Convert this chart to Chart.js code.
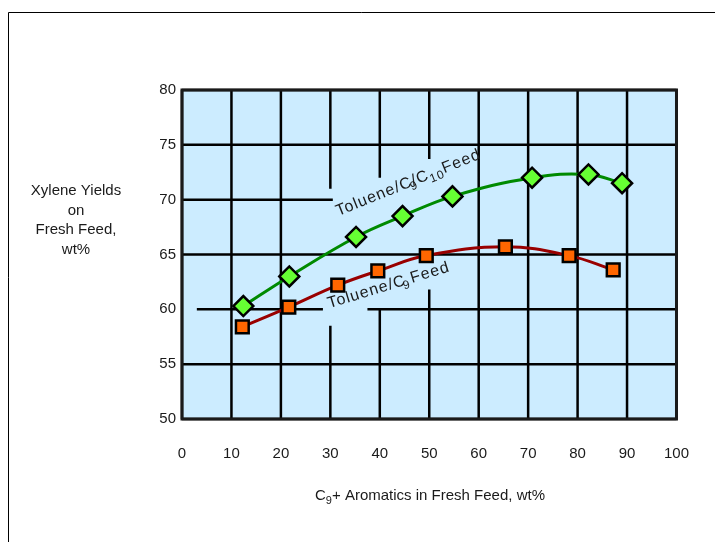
<!DOCTYPE html>
<html>
<head>
<meta charset="utf-8">
<script src="https://cdn.jsdelivr.net/npm/chart.js@4.4.0/dist/chart.umd.min.js"></script>
<style>
    html, body { margin: 0; padding: 0; background: #fff; }
    #wrap { width: 715px; height: 542px; position: relative; }
</style>
</head>
<body>
<div id="wrap"><canvas id="yieldChart"></canvas></div>
<script>
    // valores
    const c9c10Feed = [12.4, 21.7, 35.2, 44.6, 54.7, 70.8, 82.2, 89.0];
    const c9c10Yield = [60.3, 63.0, 66.6, 68.5, 70.3, 72.0, 72.3, 71.5];
    const c9Feed = [12.2, 21.6, 31.5, 39.6, 49.4, 65.4, 78.3, 87.2];
    const c9Yield = [58.4, 60.2, 62.2, 63.5, 64.9, 65.7, 64.9, 63.6];
    const xTicks = [0, 10, 20, 30, 40, 50, 60, 70, 80, 90, 100];
    const yTicks = [50, 55, 60, 65, 70, 75, 80];

    const FONT = '"Liberation Sans", Arial, sans-serif';

    function toPoints(xs, ys) {
        return xs.map((x, i) => ({ x: x, y: ys[i] }));
    }

    // grade com trechos apagados atrás dos rótulos (em unidades dos eixos)
    const hGridGaps = { 70: [[0, 30.5]], 60: [[3, 28.5], [37.5, 100]] };
    const vGridGaps = { 30: [[71, 80], [50, 58.5]], 40: [[72, 80], [50, 60]], 50: [[73.7, 80], [50, 61.8]] };

    const gridPlugin = {
        id: 'gridPlugin',
        beforeDraw(chart) {
            const ctx = chart.ctx;
            // moldura da página
            ctx.save();
            ctx.strokeStyle = '#000';
            ctx.lineWidth = 1;
            ctx.beginPath();
            ctx.moveTo(8.5, 542);
            ctx.lineTo(8.5, 12.5);
            ctx.lineTo(715, 12.5);
            ctx.stroke();
            ctx.restore();
        },
        beforeDatasetsDraw(chart) {
            const { ctx, chartArea: a, scales: { x, y } } = chart;
            ctx.save();
            ctx.fillStyle = '#CCECFF';
            ctx.fillRect(a.left, a.top, a.right - a.left, a.bottom - a.top);
            ctx.strokeStyle = '#000';
            ctx.lineWidth = 2.5;
            ctx.beginPath();
            yTicks.forEach(v => {
                const py = y.getPixelForValue(v);
                (hGridGaps[v] || [[0, 100]]).forEach(([x0, x1]) => {
                    ctx.moveTo(x.getPixelForValue(x0), py);
                    ctx.lineTo(x.getPixelForValue(x1), py);
                });
            });
            xTicks.forEach(v => {
                const px = x.getPixelForValue(v);
                (vGridGaps[v] || [[50, 80]]).forEach(([y0, y1]) => {
                    ctx.moveTo(px, y.getPixelForValue(y0));
                    ctx.lineTo(px, y.getPixelForValue(y1));
                });
            });
            ctx.stroke();
            ctx.strokeStyle = '#1a1a1a';
            ctx.lineWidth = 3;
            ctx.strokeRect(a.left, a.top, a.right - a.left, a.bottom - a.top);
            ctx.restore();
        }
    };

    function drawRich(ctx, parts, size) {
        let cx = 0;
        parts.forEach(p => {
            const fs = p.sub ? Math.round(size * 0.72) : size;
            ctx.font = fs + 'px ' + FONT;
            ctx.fillText(p.t, cx + (p.dx || 0), p.sub ? 4 : 0);
            if (!p.noAdvance) cx += ctx.measureText(p.t).width;
        });
    }

    const labelsPlugin = {
        id: 'labelsPlugin',
        afterDatasetsDraw(chart) {
            const { ctx, scales: { x, y } } = chart;
            ctx.save();
            ctx.fillStyle = '#1a1a1a';
            ctx.textBaseline = 'alphabetic';
            ctx.textAlign = 'left';
            ctx.letterSpacing = '1px';

            ctx.save();
            ctx.translate(x.getPixelForValue(31.6), y.getPixelForValue(68.5));
            ctx.rotate(-22 * Math.PI / 180);
            drawRich(ctx, [
                { t: 'Toluene/C' },
                { t: '9', sub: true, noAdvance: true, dx: -3 },
                { t: '/C' },
                { t: '10', sub: true },
                { t: 'Feed' }
            ], 16);
            ctx.restore();

            ctx.save();
            ctx.translate(x.getPixelForValue(29.8), y.getPixelForValue(60.1));
            ctx.rotate(-17 * Math.PI / 180);
            drawRich(ctx, [
                { t: 'Toluene/C' },
                { t: '9', sub: true, noAdvance: true, dx: -4 },
                { t: ' Feed' }
            ], 16);
            ctx.restore();

            ctx.letterSpacing = '0px';
            // título do eixo y
            ctx.textAlign = 'center';
            ctx.textBaseline = 'middle';
            ctx.font = '15px ' + FONT;
            ['Xylene Yields', 'on', 'Fresh Feed,', 'wt%'].forEach((line, i) => {
                ctx.fillText(line, 76, 191 + i * 19.5);
            });

            // título do eixo x com subscrito
            ctx.textAlign = 'left';
            ctx.textBaseline = 'alphabetic';
            const main = '+ Aromatics in Fresh Feed, wt%';
            ctx.font = '15px ' + FONT;
            const wC = ctx.measureText('C').width;
            const wMain = ctx.measureText(main).width;
            ctx.font = '11px ' + FONT;
            const w9 = ctx.measureText('9').width;
            let sx = 430 - (wC + w9 + wMain) / 2;
            ctx.font = '15px ' + FONT;
            ctx.fillText('C', sx, 500);
            ctx.font = '11px ' + FONT;
            ctx.fillText('9', sx + wC, 504);
            ctx.font = '15px ' + FONT;
            ctx.fillText(main, sx + wC + w9, 500);
            ctx.restore();
        }
    };

    const ctx = document.getElementById('yieldChart').getContext('2d');
    new Chart(ctx, {
        type: 'line',
        data: {
            datasets: [
                {
                    label: 'Toluene/C9/C10 Feed',
                    data: toPoints(c9c10Feed, c9c10Yield),
                    borderColor: '#008A00',
                    borderWidth: 3,
                    tension: 0.4,
                    pointStyle: 'rectRot',
                    pointRadius: 10,
                    pointBackgroundColor: '#66FF33',
                    pointBorderColor: '#000',
                    pointBorderWidth: 2.5
                },
                {
                    label: 'Toluene/C9 Feed',
                    data: toPoints(c9Feed, c9Yield),
                    borderColor: '#990000',
                    borderWidth: 3,
                    tension: 0.4,
                    pointStyle: 'rect',
                    pointRadius: 9,
                    pointBackgroundColor: '#FF6600',
                    pointBorderColor: '#000',
                    pointBorderWidth: 2.5
                }
            ]
        },
        options: {
            responsive: true,
            maintainAspectRatio: false,
            animation: false,
            events: [],
            layout: { padding: { top: 90, right: 37, left: 0, bottom: 0 } },
            plugins: { legend: { display: false }, tooltip: { enabled: false } },
            scales: {
                x: {
                    type: 'linear',
                    min: 0, max: 100,
                    afterFit: s => { s.height = 123; },
                    afterBuildTicks: s => { s.ticks = xTicks.map(v => ({ value: v })); },
                    grid: { display: false, drawTicks: false },
                    border: { display: false },
                    ticks: { padding: 26, color: '#1a1a1a', font: { family: FONT, size: 15 }, maxRotation: 0 }
                },
                y: {
                    type: 'linear',
                    min: 50, max: 80,
                    afterFit: s => { s.width = 182; },
                    afterBuildTicks: s => { s.ticks = yTicks.map(v => ({ value: v })); },
                    grid: { display: false, drawTicks: false },
                    border: { display: false },
                    ticks: { padding: 6, color: '#1a1a1a', font: { family: FONT, size: 15 } }
                }
            }
        },
        plugins: [gridPlugin, labelsPlugin]
    });
</script>
</body>
</html>
